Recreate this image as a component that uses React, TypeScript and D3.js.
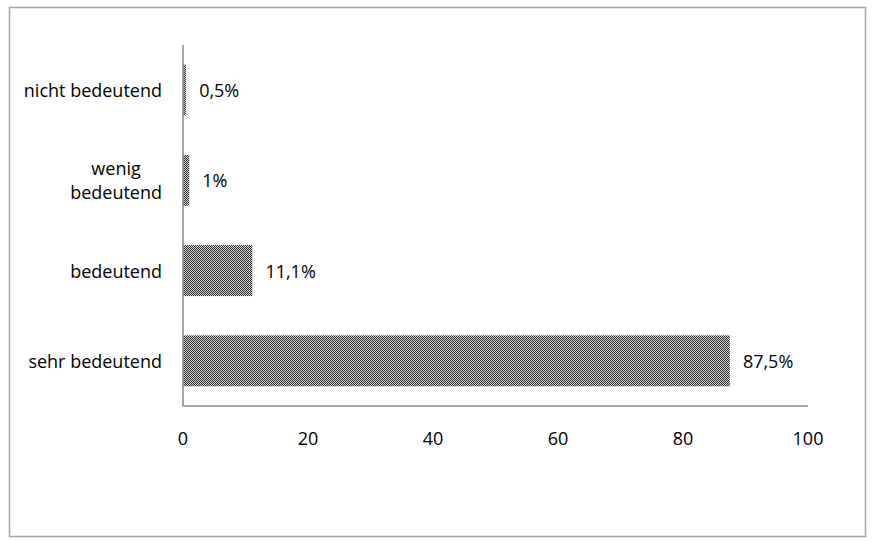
import { useEffect, useRef } from 'react';
import * as d3 from 'd3';

const categories = ['sehr bedeutend', 'bedeutend', 'wenig bedeutend', 'nicht bedeutend'];
const values = [87.5, 11.1, 1, 0.5];
const valueLabels = ['87,5%', '11,1%', '1%', '0,5%'];
const xTicks = [0, 20, 40, 60, 80, 100];

export default function App() {
    const ref = useRef<SVGSVGElement | null>(null);

    useEffect(() => {
        if (!ref.current) return;
        const svg = d3.select(ref.current);
        svg.selectAll('*').remove();

        const font = "'Open Sans', 'Liberation Sans', sans-serif";
        const fs = 18;
        const left = 183, right = 808, top = 45, bottom = 406;

        const x = d3.scaleLinear().domain([0, 100]).range([left, right]);
        const y = d3.scaleBand()
            .domain(categories)
            .range([bottom, top])
            .paddingInner(0.436)
            .paddingOuter(0.218);

        // checker fill used by the bars
        const defs = svg.append('defs');
        const pat = defs.append('pattern')
            .attr('id', 'checker')
            .attr('patternUnits', 'userSpaceOnUse')
            .attr('width', 2)
            .attr('height', 4);
        pat.append('rect').attr('width', 2).attr('height', 4).attr('fill', '#d4d4d4');
        [[0, 0], [1, 1], [0, 2], [1, 3]].forEach(([px, py]) => {
            pat.append('rect').attr('x', px).attr('y', py).attr('width', 1).attr('height', 1).attr('fill', '#2e2e2e');
        });

        // outer frame
        svg.append('rect')
            .attr('x', 9.5).attr('y', 7.5)
            .attr('width', 856).attr('height', 529)
            .attr('fill', '#fff')
            .attr('stroke', '#a6a6a6')
            .attr('stroke-width', 1.5);

        // bars
        svg.selectAll('.bar')
            .data(categories)
            .enter()
            .append('rect')
            .attr('class', 'bar')
            .attr('x', x(0))
            .attr('y', d => y(d) as number)
            .attr('width', (d, i) => x(values[i]) - x(0))
            .attr('height', y.bandwidth())
            .attr('fill', 'url(#checker)');

        // axes
        svg.append('line')
            .attr('x1', left).attr('x2', left)
            .attr('y1', top).attr('y2', bottom)
            .attr('stroke', '#888').attr('stroke-width', 1.5);
        svg.append('line')
            .attr('x1', left).attr('x2', right)
            .attr('y1', bottom).attr('y2', bottom)
            .attr('stroke', '#888').attr('stroke-width', 1.5);

        svg.selectAll('.tick-label')
            .data(xTicks)
            .enter()
            .append('text')
            .attr('x', d => x(d))
            .attr('y', 445)
            .attr('text-anchor', 'middle')
            .attr('font-family', font)
            .attr('font-size', fs)
            .attr('fill', '#000')
            .text(d => d);

        // value labels
        svg.selectAll('.val')
            .data(categories)
            .enter()
            .append('text')
            .attr('x', (d, i) => x(values[i]) + 13)
            .attr('y', d => (y(d) as number) + y.bandwidth() / 2 + 7)
            .attr('font-family', font)
            .attr('font-size', fs)
            .attr('fill', '#000')
            .text((d, i) => valueLabels[i]);

        // category labels, wrapped when long
        categories.forEach(c => {
            const cy = (y(c) as number) + y.bandwidth() / 2;
            const lines = c === 'wenig bedeutend' ? ['wenig', 'bedeutend'] : [c];
            const g = svg.append('text')
                .attr('font-family', font)
                .attr('font-size', fs)
                .attr('fill', '#000');
            if (lines.length === 1) {
                g.attr('x', 162).attr('y', cy + 7).attr('text-anchor', 'end').text(c);
            } else {
                const probe = svg.append('text')
                    .attr('font-family', font).attr('font-size', fs)
                    .text(lines[1]);
                const w = (probe.node() as SVGTextElement).getComputedTextLength();
                probe.remove();
                const mid = 162 - w / 2;
                lines.forEach((ln, k) => {
                    g.append('tspan')
                        .attr('x', mid)
                        .attr('y', cy - 5 + k * 24)
                        .attr('text-anchor', 'middle')
                        .text(ln);
                });
            }
        });
    }, []);

    return <svg ref={ref} width={875} height={543} style={{ display: 'block', position: 'absolute', left: 0, top: 0 }} />;
}
